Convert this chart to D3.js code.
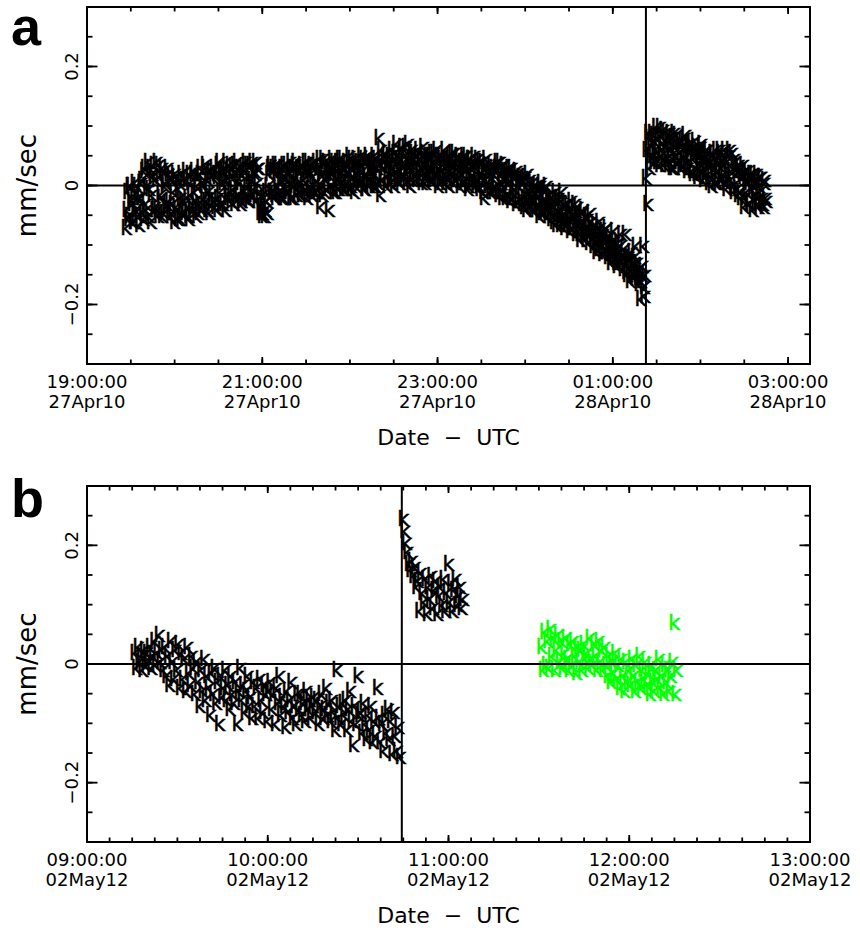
<!DOCTYPE html>
<html>
<head>
<meta charset="utf-8">
<script src="https://cdn.jsdelivr.net/npm/d3@7"></script>
<style>
  body { margin: 0; background: #fff; }
  text { font-family: "DejaVu Sans", sans-serif; }
</style>
</head>
<body>
<div id="chart"></div>
<script>
// ---- panel a : 27-28 Apr 2010 ----
var aRange = ["2010-04-27T19:00:00Z", "2010-04-28T03:15:00Z"];
var aLabelTicks = ["2010-04-27T19:00:00Z", "2010-04-27T21:00:00Z", "2010-04-27T23:00:00Z",
                   "2010-04-28T01:00:00Z", "2010-04-28T03:00:00Z"];
var aEvent = "2010-04-28T01:22:40Z";

// before the event, samples on the minute from 19:27
var aStart1 = "2010-04-27T19:27:00Z";
var aVals1 = [
  -0.07, -0.01, -0.05, 0.0, -0.03, -0.06, 0.005, -0.04, -0.02, -0.065,
  -0.02, 0.01, -0.055, 0.03, -0.04, 0.04, -0.005, -0.06, 0.02, 0.035,
  -0.035, 0.04, -0.05, 0.015, -0.02, 0.03, -0.045, 0.005, -0.03, 0.02,
  -0.05, 0.01, -0.03, -0.06, 0.015, -0.04, -0.005, -0.055, 0.02, -0.025,
  -0.045, 0.025, -0.02, -0.055, 0.005, -0.035, 0.02, -0.01, -0.05, 0.015,
  -0.03, 0.03, -0.04, 0.0, 0.035, -0.025, 0.01, -0.045, 0.025, -0.015,
  0.03, -0.035, 0.015, -0.02, 0.04, -0.03, 0.005, 0.025, -0.04, 0.01,
  -0.02, 0.035, -0.01, 0.03, -0.03, 0.02, 0.04, -0.015, 0.005, -0.025,
  0.03, -0.02, 0.04, 0.0, -0.025, 0.035, 0.01, -0.015, 0.025, 0.04,
  0.005, 0.03, -0.045, -0.05, -0.03, -0.05, -0.01, -0.045, 0.02, 0.035,
  -0.01, 0.03, -0.02, 0.02, 0.035, -0.015, 0.005, 0.03, -0.02, 0.015,
  0.035, -0.01, 0.02, -0.02, 0.03, 0.0, 0.04, -0.015, 0.025, 0.005,
  -0.015, 0.03, 0.01, 0.04, -0.02, 0.025, -0.005, 0.035, 0.015, -0.01,
  0.04, -0.005, 0.03, -0.035, 0.02, 0.045, -0.01, 0.01, 0.035, -0.04,
  0.025, 0.045, -0.01, 0.03, 0.0, 0.04, -0.005, 0.02, 0.045, 0.01,
  -0.005, 0.035, 0.02, 0.05, 0.0, 0.03, -0.01, 0.045, 0.015, 0.04,
  0.005, 0.05, 0.025, -0.005, 0.04, 0.015, 0.045, 0.0, 0.035, 0.02,
  0.05, 0.0, 0.03, 0.08, -0.015, 0.045, 0.01, 0.04, 0.055, 0.015,
  0.035, 0.005, 0.06, 0.02, 0.045, 0.07, 0.01, 0.04, 0.025, 0.065,
  0.015, 0.05, 0.005, 0.07, 0.03, 0.045, 0.01, 0.055, 0.02, 0.04,
  0.06, 0.015, 0.045, 0.025, 0.055, 0.005, 0.04, 0.02, 0.05, 0.03,
  0.01, 0.055, 0.035, 0.02, 0.05, 0.005, 0.045, 0.025, 0.06, 0.015,
  0.04, 0.0, 0.05, 0.02, 0.035, 0.055, 0.01, 0.03, 0.045, 0.015,
  0.04, 0.005, 0.03, 0.05, -0.005, 0.025, 0.045, 0.01, 0.035, 0.0,
  0.03, 0.045, -0.005, 0.02, 0.04, -0.02, 0.01, 0.035, 0.0, 0.025,
  0.035, -0.01, 0.02, 0.0, 0.03, -0.015, 0.04, 0.005, -0.005, 0.025,
  -0.02, 0.025, 0.005, -0.025, 0.03, -0.01, 0.015, -0.03, 0.02, 0.0,
  0.015, -0.03, 0.01, -0.02, -0.04, 0.02, -0.01, -0.035, 0.005, -0.025,
  -0.04, 0.0, -0.03, -0.05, 0.005, -0.015, -0.045, -0.025, 0.0, -0.04,
  -0.015, -0.055, -0.03, -0.06, -0.01, -0.045, -0.02, -0.065, -0.025, -0.05,
  -0.07, -0.03, -0.06, -0.04, -0.075, -0.025, -0.055, -0.045, -0.08, -0.035,
  -0.05, -0.09, -0.06, -0.04, -0.085, -0.07, -0.055, -0.095, -0.045, -0.075,
  -0.1, -0.065, -0.11, -0.08, -0.06, -0.095, -0.115, -0.075, -0.09, -0.07,
  -0.12, -0.085, -0.13, -0.1, -0.075, -0.115, -0.135, -0.095, -0.125, -0.08,
  -0.14, -0.105, -0.08, -0.15, -0.12, -0.16, -0.11, -0.135, -0.155, -0.1,
  -0.13, -0.165, -0.19, -0.15, -0.1, -0.185
];
// ... and on the half minute
var aStart1b = "2010-04-27T19:27:30Z";
var aVals1b = [
  -0.04, -0.055, 0.0, -0.025, -0.06, -0.015, -0.045, 0.0, -0.05, -0.02,
  0.005, -0.045, 0.025, -0.03, 0.0, -0.05, 0.03, -0.015, 0.015, -0.04,
  0.01, -0.04, 0.035, -0.015, -0.05, 0.025, 0.0, -0.035, 0.03, -0.025,
  0.015, -0.045, -0.01, 0.02, -0.035, -0.055, 0.005, -0.02, -0.045, 0.01,
  -0.03, 0.01, -0.05, 0.02, -0.015, -0.04, 0.025, -0.025, 0.0, -0.045,
  0.02, -0.035, 0.005, -0.02, 0.03, -0.04, -0.01, 0.025, -0.03, 0.015,
  -0.025, 0.02, -0.04, 0.035, -0.01, 0.025, -0.03, 0.01, 0.04, -0.015,
  0.025, -0.025, 0.015, -0.005, 0.035, -0.02, 0.01, 0.03, -0.03, 0.02,
  -0.01, 0.025, -0.02, 0.035, 0.015, -0.015, 0.04, -0.005, 0.02, -0.025,
  0.03, -0.01, -0.035, -0.045, -0.02, -0.04, -0.025, 0.0, 0.03, -0.01,
  0.025, -0.015, 0.035, 0.0, -0.01, 0.025, -0.02, 0.015, 0.035, -0.005,
  -0.01, 0.025, 0.04, 0.005, -0.02, 0.035, 0.015, -0.005, 0.03, -0.015,
  0.035, 0.0, -0.01, 0.025, 0.04, -0.005, 0.02, -0.015, 0.03, 0.005,
  -0.01, 0.03, 0.045, 0.005, -0.015, 0.025, 0.04, -0.005, 0.02, 0.03,
  0.0, 0.02, 0.04, -0.01, 0.035, 0.01, 0.045, 0.025, -0.005, 0.03,
  0.04, 0.005, 0.025, -0.005, 0.045, 0.015, 0.035, 0.0, 0.03, 0.01,
  0.03, 0.01, 0.045, -0.005, 0.02, 0.05, 0.005, 0.03, 0.04, 0.0,
  0.02, 0.045, 0.005, 0.035, 0.06, 0.01, 0.03, 0.05, 0.0, 0.04,
  0.05, 0.015, 0.03, 0.0, 0.055, 0.025, 0.045, 0.005, 0.06, 0.02,
  0.04, 0.065, 0.02, 0.035, 0.0, 0.06, 0.025, 0.045, 0.01, 0.05,
  0.025, 0.045, 0.005, 0.065, 0.035, 0.015, 0.05, 0.03, 0.01, 0.055,
  0.04, 0.02, 0.06, 0.0, 0.03, 0.05, 0.015, 0.035, 0.005, 0.045,
  0.015, 0.045, 0.025, 0.055, 0.005, 0.04, 0.02, 0.05, 0.0, 0.035,
  0.02, 0.05, 0.01, 0.035, 0.0, 0.045, 0.015, 0.03, 0.05, 0.005,
  0.01, 0.0, 0.04, 0.015, -0.01, 0.03, 0.045, 0.005, 0.025, -0.01,
  0.015, 0.03, -0.005, 0.025, 0.04, -0.01, 0.02, -0.02, 0.035, 0.01,
  0.015, -0.015, 0.03, 0.01, -0.02, 0.02, -0.005, 0.025, -0.025, 0.01,
  -0.02, 0.005, -0.035, 0.015, -0.01, -0.03, 0.01, -0.02, -0.04, 0.0,
  -0.01, -0.035, -0.02, 0.0, -0.045, -0.025, -0.005, -0.035, -0.05, -0.015,
  -0.04, -0.02, -0.05, -0.035, -0.065, -0.025, -0.055, -0.04, -0.01, -0.06,
  -0.045, -0.065, -0.03, -0.055, -0.04, -0.07, -0.05, -0.03, -0.06, -0.075,
  -0.08, -0.06, -0.045, -0.075, -0.09, -0.05, -0.07, -0.08, -0.06, -0.085,
  -0.075, -0.095, -0.085, -0.105, -0.07, -0.1, -0.08, -0.11, -0.095, -0.085,
  -0.095, -0.11, -0.1, -0.12, -0.09, -0.13, -0.105, -0.115, -0.1, -0.125,
  -0.115, -0.13, -0.145, -0.12, -0.14, -0.125, -0.15, -0.13, -0.12, -0.145,
  -0.155, -0.14, -0.16, -0.135, -0.17, -0.15
];

// after the event, from 01:23
var aStart2 = "2010-04-28T01:23:00Z";
var aVals2 = [
  0.013, -0.03, 0.08, 0.05,
  0.09, 0.04, 0.075, 0.1, 0.055, 0.035, 0.085, 0.06, 0.095, 0.045,
  0.07, 0.035, 0.09, 0.05, 0.08, 0.03, 0.065, 0.085, 0.04, 0.075,
  0.03, 0.075, 0.045, 0.085, 0.025, 0.06, 0.04, 0.07, 0.02, 0.055,
  0.065, 0.015, 0.05, 0.03, 0.07, 0.01, 0.045, 0.025, 0.06, 0.005,
  0.04, 0.0, 0.05, 0.02, 0.06, 0.005, 0.035, 0.055, 0.015, 0.045,
  0.06, -0.005, 0.03, 0.05, 0.01, 0.055, -0.01, 0.04, 0.02, -0.015,
  0.03, -0.02, 0.015, -0.035, 0.025, -0.01, 0.005, -0.03, 0.02, -0.04,
  0.0, -0.025, 0.02, -0.035, -0.01, 0.015, -0.03, 0.005, -0.02
];
var aStart2b = "2010-04-28T01:23:30Z";
var aVals2b = [
  0.06, 0.09, 0.03, 0.07,
  0.05, 0.085, 0.06, 0.04, 0.08, 0.1, 0.05, 0.07, 0.035, 0.09,
  0.045, 0.08, 0.06, 0.03, 0.07, 0.09, 0.05, 0.04, 0.075, 0.055,
  0.065, 0.035, 0.08, 0.05, 0.03, 0.07, 0.06, 0.025, 0.045, 0.075,
  0.02, 0.055, 0.04, 0.065, 0.025, 0.05, 0.015, 0.06, 0.035, 0.045,
  0.015, 0.055, 0.03, 0.005, 0.045, 0.025, 0.06, 0.01, 0.04, 0.02,
  0.005, 0.04, 0.015, 0.06, 0.025, 0.0, 0.045, 0.03, -0.005, 0.035,
  -0.01, 0.02, 0.035, -0.02, 0.01, 0.025, -0.03, 0.015, -0.005, 0.02,
  -0.015, 0.01, -0.03, 0.0, 0.015, -0.02, -0.035, 0.01, -0.025
];

// ---- panel b : 02 May 2012 ----
var bRange = ["2012-05-02T09:00:00Z", "2012-05-02T13:00:00Z"];
var bLabelTicks = ["2012-05-02T09:00:00Z", "2012-05-02T10:00:00Z", "2012-05-02T11:00:00Z",
                   "2012-05-02T12:00:00Z", "2012-05-02T13:00:00Z"];
var bEvent = "2012-05-02T10:44:30Z";

// every 30 s
var bStart1 = "2012-05-02T09:16:00Z";
var bVals1 = [
  0.02, -0.005, 0.03, 0.005, 0.015, -0.01, 0.025, 0.0, 0.02, 0.01,
  0.03, -0.005, 0.015, 0.04, 0.0, 0.02, 0.05, 0.005, 0.025, -0.01,
  0.03, -0.02, 0.015, -0.035, 0.04, 0.005, -0.025, 0.025, -0.01, 0.035,
  -0.04, 0.02, -0.025, 0.01, -0.045, 0.03, -0.015, -0.035, 0.015, -0.005,
  -0.05, 0.005, -0.03, -0.07, -0.01, -0.045, 0.01, -0.06, -0.02, -0.04,
  -0.085, -0.015, -0.05, -0.005, -0.065, -0.03, -0.1, -0.02, -0.055, -0.04,
  -0.01, -0.06, -0.035, -0.075, -0.02, -0.05, -0.065, -0.03, -0.1, -0.045,
  -0.005, -0.06, -0.035, -0.08, -0.045, -0.02, -0.07, -0.055, -0.09, -0.03,
  -0.07, -0.04, -0.09, -0.025, -0.06, -0.08, -0.035, -0.05, -0.095, -0.045,
  -0.03, -0.075, -0.05, -0.1, -0.04, -0.065, -0.02, -0.085, -0.055, -0.07,
  -0.105, -0.045, -0.08, -0.06, -0.03, -0.09, -0.07, -0.1, -0.05, -0.075,
  -0.05, -0.085, -0.065, -0.095, -0.045, -0.075, -0.06, -0.09, -0.07, -0.055,
  -0.08, -0.06, -0.1, -0.07, -0.05, -0.09, -0.075, -0.04, -0.085, -0.065,
  -0.095, -0.06, -0.08, -0.11, -0.01, -0.09, -0.07, -0.1, -0.065, -0.085,
  -0.06, -0.11, -0.075, -0.045, -0.095, -0.135, -0.07, -0.1, -0.02, -0.085,
  -0.08, -0.115, -0.065, -0.1, -0.125, -0.085, -0.11, -0.07, -0.13, -0.095,
  -0.12, -0.04, -0.09, -0.13, -0.1, -0.145, -0.085, -0.115, -0.075, -0.125,
  -0.095, -0.15, -0.08, -0.12, -0.145, -0.105, -0.155
];

var bStart2 = "2012-05-02T10:45:00Z";
var bVals2 = [
  0.245, 0.225, 0.205, 0.19, 0.17, 0.16, 0.175, 0.15, 0.165, 0.13,
  0.14, 0.09, 0.155, 0.12, 0.105, 0.145, 0.085, 0.13, 0.11, 0.15,
  0.095, 0.125, 0.14, 0.085, 0.115, 0.13, 0.1, 0.145, 0.09, 0.12,
  0.17, 0.105, 0.135, 0.09, 0.125, 0.145, 0.1, 0.115, 0.13, 0.095, 0.11
];

var bStart3 = "2012-05-02T11:31:00Z";
var bVals3 = [
  0.03, -0.01, 0.055, 0.0, 0.04, -0.005, 0.06, 0.015, 0.045, -0.01,
  0.025, 0.05, 0.005, 0.04, -0.005, 0.02, 0.045, 0.01, -0.01, 0.035,
  0.0, 0.04, 0.015, -0.015, 0.03, 0.005, 0.025, -0.01, 0.035, 0.01,
  0.02, -0.005, 0.045, 0.01, 0.0, 0.035, 0.015, -0.01, 0.04, 0.005,
  0.025, -0.01, 0.03, 0.0, -0.02, 0.015, -0.03, 0.005, -0.015, 0.02,
  -0.025, 0.0, -0.04, 0.01, -0.02, -0.045, 0.005, -0.03, -0.01, -0.035,
  0.01, -0.02, -0.045, 0.0, -0.03, 0.015, -0.04, -0.01, -0.025, 0.005,
  -0.035, -0.015, -0.05, 0.0, -0.03, -0.045, -0.01, -0.025, 0.01, -0.04,
  -0.02, -0.05, 0.0, -0.03, -0.01, -0.045, -0.02, 0.005, 0.07, -0.05,
  -0.01
];

var yDomain = [-0.3, 0.3];
var yLabelTicks = [-0.2, 0, 0.2];

var panels = [
  { name: "a", range: aRange, labels: aLabelTicks, event: aEvent, minorMin: 30,
    top: 7, bottom: 364,
    series: [ { start: aStart1, step: 60, values: aVals1, color: "#000" },
              { start: aStart1b, step: 60, values: aVals1b, color: "#000" },
              { start: aStart2, step: 60, values: aVals2, color: "#000" },
              { start: aStart2b, step: 60, values: aVals2b, color: "#000" } ] },
  { name: "b", range: bRange, labels: bLabelTicks, event: bEvent, minorMin: 7.5,
    top: 486, bottom: 842,
    series: [ { start: bStart1, step: 30, values: bVals1, color: "#000" },
              { start: bStart2, step: 30, values: bVals2, color: "#000" },
              { start: bStart3, step: 30, values: bVals3, color: "#00ff00" } ] }
];

var left = 87, right = 810;
var fmtTime = d3.utcFormat("%H:%M:%S"),
    fmtDay = d3.utcFormat("%d%b%y");

var svg = d3.select("#chart")
            .append("svg")
            .attr("width", 860)
            .attr("height", 932);

panels.forEach(function(p) {

  var x = d3.scaleUtc()
            .domain(p.range.map(d => new Date(d)))
            .range([left, right]);
  var y = d3.scaleLinear()
            .domain(yDomain)
            .range([p.bottom, p.top]);

  var g = svg.append("g");

  // the k markers
  p.series.forEach(function(s) {
    var t0 = +new Date(s.start);
    g.append("g")
      .selectAll("text")
      .data(s.values)
      .enter().append("text")
      .attr("x", (d, i) => x(new Date(t0 + i * s.step * 1000)))
      .attr("y", d => y(d))
      .attr("dy", "0.36em")
      .attr("text-anchor", "middle")
      .attr("fill", s.color)
      .attr("stroke", s.color)
      .attr("stroke-width", 0.5)
      .style("font-size", "21px")
      .text("k");
  });

  // zero line and event line
  g.append("line")
    .attr("x1", left).attr("x2", right)
    .attr("y1", y(0)).attr("y2", y(0))
    .attr("stroke", "#000").attr("stroke-width", 2);
  g.append("line")
    .attr("x1", x(new Date(p.event))).attr("x2", x(new Date(p.event)))
    .attr("y1", p.top).attr("y2", p.bottom)
    .attr("stroke", "#000").attr("stroke-width", 2);

  // tick positions
  var d0 = x.domain()[0], d1 = x.domain()[1];
  var nMinor = Math.floor((d1 - d0) / (p.minorMin * 60000));
  var xMinor = d3.range(0, nMinor + 1).map(i => new Date(+d0 + i * p.minorMin * 60000));
  var xMajor = p.labels.map(d => new Date(d));
  var yMinor = d3.range(-6, 7).map(i => i * 0.05);

  // ticks point inwards on all four sides
  function xTicks(vals, len) {
    [p.bottom, p.top].forEach(function(y0, k) {
      g.append("g").selectAll("line")
        .data(vals)
        .enter().append("line")
        .attr("x1", d => x(d)).attr("x2", d => x(d))
        .attr("y1", y0).attr("y2", k === 0 ? y0 - len : y0 + len)
        .attr("stroke", "#000").attr("stroke-width", 1.8);
    });
  }
  function yTicks(vals, len) {
    [left, right].forEach(function(x0, k) {
      g.append("g").selectAll("line")
        .data(vals)
        .enter().append("line")
        .attr("y1", d => y(d)).attr("y2", d => y(d))
        .attr("x1", x0).attr("x2", k === 0 ? x0 + len : x0 - len)
        .attr("stroke", "#000").attr("stroke-width", 1.8);
    });
  }
  xTicks(xMinor, 4.5);
  xTicks(xMajor, 7);
  yTicks(yMinor, 5.5);
  yTicks(yLabelTicks, 10.5);

  // frame
  g.append("rect")
    .attr("x", left).attr("y", p.top)
    .attr("width", right - left).attr("height", p.bottom - p.top)
    .attr("fill", "none").attr("stroke", "#000").attr("stroke-width", 2);

  // x tick labels, two lines
  var xl = g.append("g").selectAll("g")
            .data(xMajor)
            .enter().append("g")
            .attr("transform", d => `translate(${x(d)},0)`);
  xl.append("text")
    .attr("y", p.bottom + 24)
    .attr("text-anchor", "middle")
    .style("font-size", "18px")
    .text(d => fmtTime(d));
  xl.append("text")
    .attr("y", p.bottom + 44)
    .attr("text-anchor", "middle")
    .style("font-size", "18px")
    .text(d => fmtDay(d));

  // y tick labels, rotated
  g.append("g").selectAll("text")
    .data(yLabelTicks)
    .enter().append("text")
    .attr("transform", d => `translate(${left - 9},${y(d)}) rotate(-90)`)
    .attr("text-anchor", "middle")
    .style("font-size", "18px")
    .text(d => d === 0 ? "0" : (d < 0 ? "\u2212" + Math.abs(d) : "" + d));

  // axis titles
  g.append("text")
    .attr("x", (left + right) / 2)
    .attr("y", p.bottom + 81)
    .attr("text-anchor", "middle")
    .attr("xml:space", "preserve")
    .style("white-space", "pre")
    .style("font-size", "22px")
    .text("Date  \u2212  UTC");

  g.append("text")
    .attr("transform", `translate(36,${(p.top + p.bottom) / 2}) rotate(-90)`)
    .attr("text-anchor", "middle")
    .style("font-size", "26px")
    .text("mm/sec");

  // panel letter
  g.append("text")
    .attr("x", 11)
    .attr("y", p.top + (p.name === "a" ? 38 : 31))
    .style("font-family", "'Liberation Sans', Arial, sans-serif")
    .style("font-weight", "bold")
    .style("font-size", "54px")
    .text(p.name);
});
</script>
</body>
</html>
